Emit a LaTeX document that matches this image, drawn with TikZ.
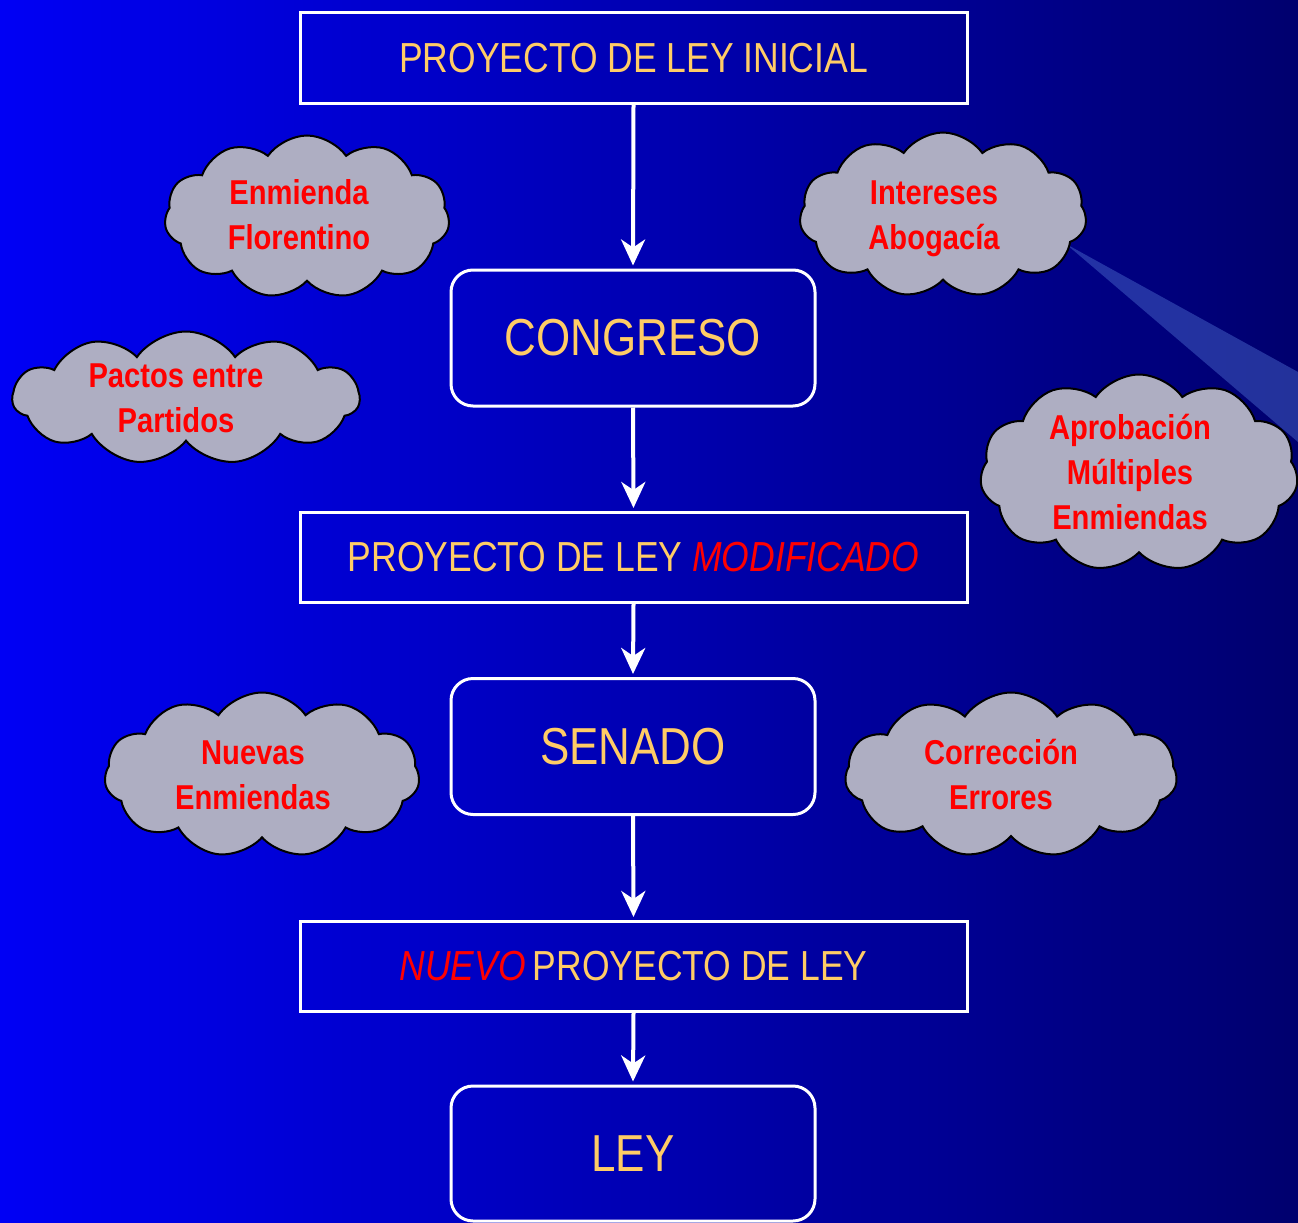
\documentclass[tikz,border=0pt]{standalone}
\usepackage{fontspec}
\setmainfont[FakeStretch=0.845]{Liberation Sans}
\usetikzlibrary{shapes.symbols,arrows.meta}
\definecolor{txtyel}{RGB}{255,204,102}
\definecolor{cloudgray}{RGB}{174,174,194}
\definecolor{bgleft}{RGB}{0,0,245}
\definecolor{bgright}{RGB}{0,0,110}
\definecolor{wedge}{RGB}{70,100,200}
\tikzset{
  sqbox/.style={draw=white,line width=3pt,rectangle,minimum width=667pt,minimum height=90pt,inner sep=0pt,text=txtyel,font=\fontsize{42}{46}\selectfont},
  rbox/.style={draw=white,line width=3pt,rectangle,rounded corners=22pt,minimum width=364pt,minimum height=136pt,inner sep=0pt,text=txtyel,font=\fontsize{52}{56}\selectfont},
  cloudshape/.style={cloud,cloud puffs=11,cloud puff arc=110,cloud ignores aspect,draw=black,line width=2pt,fill=cloudgray,inner sep=0pt},
  cloudtext/.style={text=red,align=center,font=\fontsize{34.5}{45}\selectfont\bfseries},
  arr/.style={draw=white,line width=4pt,-{Stealth[length=26pt,width=24pt,inset=8pt]},shorten >=3pt}
}
\begin{document}
\begin{tikzpicture}[x=1pt,y=-1pt]
\shade[left color=bgleft,right color=bgright] (0,0) rectangle (1298,1223);
\useasboundingbox (0,0) rectangle (1298,1223);
% wedge callout
\fill[wedge,opacity=0.5] (1066,244) -- (1298,372) -- (1298,442) -- cycle;
% boxes
\node[sqbox] (b1) at (633.5,58) {PROYECTO DE LEY INICIAL};
\node[rbox] (cong) at (633,338) {CONGRESO};
\node[sqbox] (b2) at (633.5,557.5) {PROYECTO DE LEY \textcolor{red}{\itshape MODIFICADO}};
\node[rbox] (sen) at (633,746.5) {SENADO};
\node[sqbox] (b3) at (633.5,966.5) {\textcolor{red}{\itshape NUEVO}\,PROYECTO DE LEY};
\node[rbox,minimum height=135pt] (ley) at (633,1153.5) {LEY};
% arrows
\draw[arr] (b1.south) -- (cong.north);
\draw[arr] (cong.south) -- (b2.north);
\draw[arr] (b2.south) -- (sen.north);
\draw[arr] (sen.south) -- (b3.north);
\draw[arr] (b3.south) -- (ley.north);
% clouds
\node[cloudshape,minimum width=285pt,minimum height=163pt] (c1) at (307,217) {};
\node[cloudtext] (t1) at (299,215) {Enmienda\\Florentino};
\node[cloudshape,minimum width=287pt,minimum height=165pt] (c2) at (943,215) {};
\node[cloudtext] (t2) at (934,219) {Intereses\\Abogacía};
\node[cloudshape,minimum width=347pt,minimum height=133pt] (c3) at (186,398) {};
\node[cloudtext] (t3) at (176,398) {Pactos entre\\Partidos};
\node[cloudshape,minimum width=318pt,minimum height=197pt] (c4) at (1139,473) {};
\node[cloudtext] (t4) at (1130,472) {Aprobación\\Múltiples\\Enmiendas};
\node[cloudshape,minimum width=315pt,minimum height=165pt] (c5) at (262,775) {};
\node[cloudtext] (t5) at (253,775) {Nuevas\\Enmiendas};
\node[cloudshape,minimum width=332pt,minimum height=165pt] (c6) at (1011,775) {};
\node[cloudtext] (t6) at (1001,775) {Corrección\\Errores};
\end{tikzpicture}
\end{document}
